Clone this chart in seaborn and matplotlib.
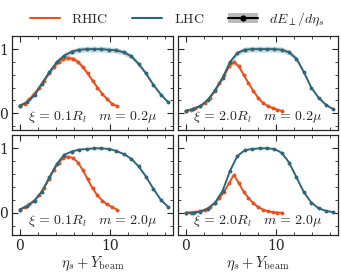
import numpy as np
import pandas as pd
import matplotlib
matplotlib.use('Agg')
import matplotlib.pyplot as plt
from matplotlib.lines import Line2D
from matplotlib.patches import Patch
from matplotlib.ticker import MultipleLocator
import seaborn as sns

# === Data ===
rhic_x = [0.0, 0.54, 1.07, 1.61, 2.14, 2.68, 3.22, 3.75, 4.29, 4.82, 5.36,
          5.9, 6.43, 6.97, 7.5, 8.04, 8.58, 9.11, 9.65, 10.18, 10.72]
lhc_x = [0.0, 0.82, 1.64, 2.46, 3.28, 4.1, 4.92, 5.74, 6.56, 7.38, 8.2,
         9.02, 9.84, 10.66, 11.48, 12.3, 13.12, 13.94, 14.76, 15.58, 16.4]

# xi = 0.1 R_l, m = 0.2 mu
rhic_a = [0.11, 0.15, 0.22, 0.30, 0.40, 0.51, 0.62, 0.72, 0.80, 0.85, 0.86,
          0.85, 0.80, 0.72, 0.62, 0.51, 0.40, 0.30, 0.22, 0.15, 0.11]
lhc_a = [0.12, 0.17, 0.28, 0.46, 0.64, 0.80, 0.90, 0.96, 0.99, 1.0, 1.0,
         1.0, 0.99, 0.98, 0.95, 0.89, 0.77, 0.62, 0.44, 0.29, 0.17]
# xi = 2.0 R_l, m = 0.2 mu
rhic_b = [0.035, 0.055, 0.08, 0.11, 0.16, 0.24, 0.35, 0.47, 0.60, 0.73, 0.80,
          0.73, 0.60, 0.47, 0.35, 0.24, 0.16, 0.11, 0.08, 0.055, 0.035]
lhc_b = [0.035, 0.065, 0.11, 0.21, 0.36, 0.55, 0.80, 0.94, 0.99, 1.0, 1.0,
         1.0, 1.0, 0.99, 0.95, 0.85, 0.64, 0.40, 0.24, 0.13, 0.06]
# xi = 0.1 R_l, m = 2.0 mu
rhic_c = [0.05, 0.09, 0.13, 0.19, 0.27, 0.38, 0.52, 0.66, 0.78, 0.85, 0.87,
          0.85, 0.78, 0.66, 0.52, 0.38, 0.27, 0.19, 0.13, 0.09, 0.05]
lhc_c = [0.05, 0.10, 0.19, 0.33, 0.55, 0.76, 0.90, 0.95, 0.98, 0.99, 1.0,
         1.0, 0.99, 0.96, 0.91, 0.84, 0.72, 0.56, 0.37, 0.20, 0.09]
# xi = 2.0 R_l, m = 2.0 mu
rhic_d = [0.0, 0.005, 0.01, 0.025, 0.05, 0.09, 0.15, 0.23, 0.33, 0.46, 0.59,
          0.46, 0.33, 0.23, 0.15, 0.09, 0.05, 0.025, 0.01, 0.005, 0.0]
lhc_d = [0.0, 0.005, 0.02, 0.06, 0.16, 0.34, 0.65, 0.88, 0.97, 0.99, 1.0,
         1.0, 0.99, 0.93, 0.78, 0.55, 0.32, 0.16, 0.07, 0.03, 0.01]

panel_labels = [r'$\xi\,=\,0.1R_l \quad m\,=\,0.2\mu$', r'$\xi\,=\,2.0R_l \quad m\,=\,0.2\mu$',
                r'$\xi\,=\,0.1R_l \quad m\,=\,2.0\mu$', r'$\xi\,=\,2.0R_l \quad m\,=\,2.0\mu$']
rhic_series = [rhic_a, rhic_b, rhic_c, rhic_d]
lhc_series = [lhc_a, lhc_b, lhc_c, lhc_d]
band_rel = [0.04, 0.04, 0.0, 0.0]   # relative width of the shaded band

colors = {'RHIC': '#e8501e', 'LHC': '#2f6677'}

rows = []
for p in range(4):
    for xv, yv in zip(rhic_x, rhic_series[p]):
        rows.append({'panel': p, 'collider': 'RHIC', 'x': xv, 'y': yv})
    for xv, yv in zip(lhc_x, lhc_series[p]):
        rows.append({'panel': p, 'collider': 'LHC', 'x': xv, 'y': yv})
df = pd.DataFrame(rows)

# === Style ===
sns.set_style('ticks')
plt.rcParams['font.family'] = ['DejaVu Serif']
plt.rcParams['mathtext.fontset'] = 'cm'
plt.rcParams['font.size'] = 10

fig = plt.figure(figsize=(3.41, 2.73), dpi=100)
boxes = [[0.035, 0.522, 0.472, 0.345], [0.522, 0.522, 0.469, 0.345],
         [0.035, 0.14, 0.472, 0.364], [0.522, 0.14, 0.469, 0.364]]
ylims = [(-0.27, 1.2), (-0.27, 1.2), (-0.34, 1.2), (-0.34, 1.2)]

for p in range(4):
    ax = fig.add_axes(boxes[p])
    sub = df[df['panel'] == p]
    for name in ['RHIC', 'LHC']:
        s = sub[sub['collider'] == name]
        if band_rel[p] > 0:
            err = s['y'] * band_rel[p] + 0.005
            ax.fill_between(s['x'], s['y'] - err, s['y'] + err,
                            color=colors[name], alpha=0.25, lw=0)
    sns.lineplot(data=sub, x='x', y='y', hue='collider', palette=colors,
                 hue_order=['RHIC', 'LHC'], marker='o', markersize=2.8,
                 markeredgewidth=0, linewidth=1.4, legend=False, ax=ax,
                 errorbar=None, sort=False)
    ax.set_xlim(-0.85, 16.9)
    ax.set_ylim(*ylims[p])
    ax.xaxis.set_major_locator(MultipleLocator(10))
    ax.xaxis.set_minor_locator(MultipleLocator(2))
    ax.yaxis.set_major_locator(MultipleLocator(1))
    ax.yaxis.set_minor_locator(MultipleLocator(0.2))
    ax.tick_params(which='both', direction='in', top=True, right=True,
                   labelsize=10, pad=3)
    ax.tick_params(which='major', length=4, width=0.8)
    ax.tick_params(which='minor', length=2.2, width=0.6)
    for sp in ax.spines.values():
        sp.set_linewidth(0.9)
    ax.set_ylabel('')
    if p < 2:
        ax.set_xlabel('')
        ax.tick_params(labelbottom=False)
    else:
        ax.set_xlabel(r'$\eta_s + Y_{\rm beam}$', fontsize=10.5, labelpad=1)
    if p % 2 == 1:
        ax.tick_params(labelleft=False)
    ax.text(0.5, 0.06, panel_labels[p], transform=ax.transAxes,
            ha='center', va='bottom', fontsize=10)

# === Legend ===
handles = [Line2D([], [], color=colors['RHIC'], lw=1.5),
           Line2D([], [], color=colors['LHC'], lw=1.5),
           (Patch(facecolor='#bbbbbb', edgecolor='none'),
            Line2D([], [], color='black', lw=1.5, marker='o', markersize=3.5))]
fig.legend(handles, [r'$\mathrm{RHIC}$', r'$\mathrm{LHC}$', r'$dE_\perp/d\eta_s$'],
           loc='center', bbox_to_anchor=(0.52, 0.93), ncol=3, frameon=False,
           fontsize=10, handlelength=2.2, columnspacing=1.7, handletextpad=0.8)

fig.savefig('out.png', dpi=100)
